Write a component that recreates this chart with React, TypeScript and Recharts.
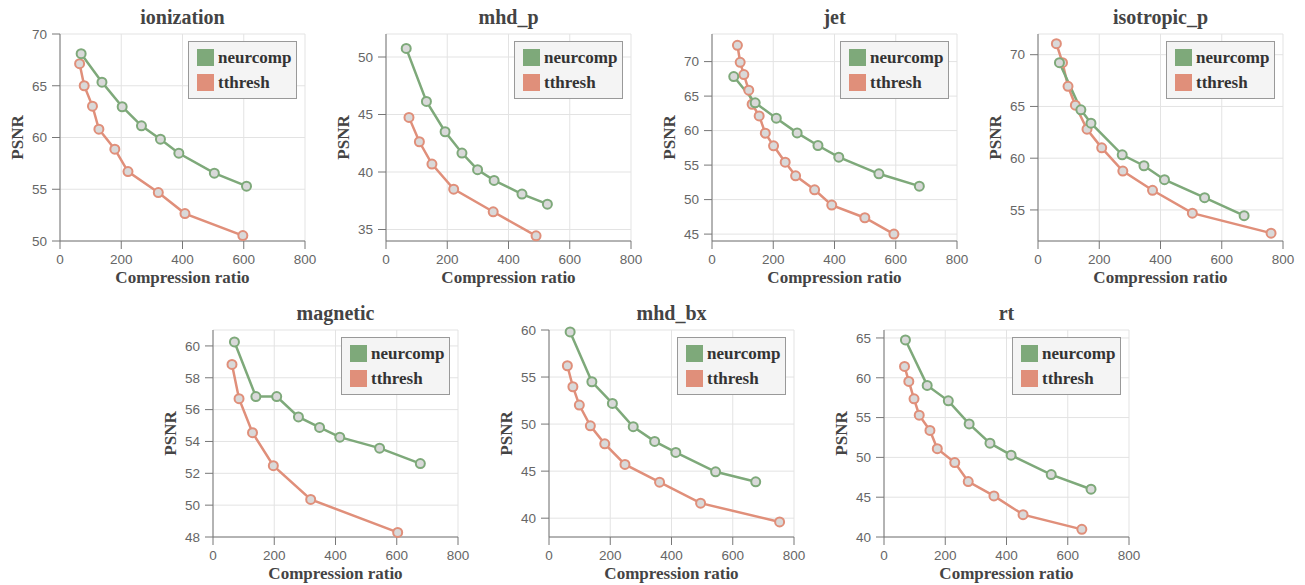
import React from "react";
import { LineChart, Line, XAxis, YAxis, CartesianGrid, Legend } from "recharts";

const SERIES = ["neurcomp", "tthresh"];
const COLORS = ["#7ea97a", "#e08f7a"];
const X_TICKS = [0, 200, 400, 600, 800];

// ionization
const ionizationNcRatio = [69, 137, 203, 266, 328, 388, 504, 609];
const ionizationNcPsnr = [68.1, 65.35, 62.97, 61.13, 59.84, 58.48, 56.55, 55.3];
const ionizationTtRatio = [64, 79, 106, 127, 179, 222, 321, 408, 597];
const ionizationTtPsnr = [67.13, 65.0, 63.03, 60.8, 58.87, 56.71, 54.68, 52.65, 50.52];

// mhd_p
const mhdPNcRatio = [66, 132, 193, 248, 299, 353, 444, 527];
const mhdPNcPsnr = [50.75, 46.14, 43.5, 41.65, 40.2, 39.27, 38.08, 37.2];
const mhdPTtRatio = [75, 109, 150, 221, 350, 490];
const mhdPTtPsnr = [44.75, 42.63, 40.69, 38.51, 36.54, 34.45];

// jet
const jetNcRatio = [71, 141, 210, 278, 346, 414, 545, 677];
const jetNcPsnr = [67.83, 64.02, 61.8, 59.67, 57.84, 56.15, 53.74, 51.95];
const jetTtRatio = [83, 92, 104, 120, 131, 154, 174, 201, 239, 273, 335, 391, 499, 594];
const jetTtPsnr = [72.36, 69.9, 68.12, 65.85, 63.82, 62.13, 59.62, 57.79, 55.42, 53.45, 51.42, 49.2, 47.37, 45.0];

// isotropic_p
const isoNcRatio = [70, 140, 173, 275, 346, 413, 544, 673];
const isoNcPsnr = [69.23, 64.67, 63.38, 60.33, 59.27, 57.92, 56.19, 54.45];
const isoTtRatio = [60, 80, 98, 122, 160, 208, 277, 374, 504, 761];
const isoTtPsnr = [71.06, 69.23, 66.95, 65.12, 62.8, 61.0, 58.76, 56.9, 54.69, 52.76];

// magnetic
const magneticNcRatio = [70, 140, 208, 279, 348, 414, 544, 677];
const magneticNcPsnr = [60.25, 56.82, 56.82, 55.54, 54.88, 54.27, 53.58, 52.61];
const magneticTtRatio = [62, 85, 129, 197, 319, 603];
const magneticTtPsnr = [58.84, 56.69, 54.55, 52.48, 50.36, 48.29];

// mhd_bx
const mhdBxNcRatio = [69, 140, 207, 275, 345, 414, 544, 675];
const mhdBxNcPsnr = [59.79, 54.5, 52.2, 49.72, 48.16, 46.99, 44.93, 43.87];
const mhdBxTtRatio = [60, 78, 99, 135, 182, 248, 361, 495, 753];
const mhdBxTtPsnr = [56.2, 53.97, 52.02, 49.82, 47.9, 45.71, 43.83, 41.6, 39.6];

// rt
const rtNcRatio = [70, 141, 210, 278, 346, 415, 546, 676];
const rtNcPsnr = [64.75, 59.04, 57.1, 54.2, 51.78, 50.28, 47.84, 46.0];
const rtTtRatio = [67, 81, 98, 115, 150, 174, 231, 275, 359, 454, 646];
const rtTtPsnr = [61.43, 59.54, 57.36, 55.3, 53.38, 51.1, 49.35, 46.96, 45.16, 42.81, 40.96];

const toPoints = (xs: number[], ys: number[]) => xs.map((x, i) => ({ x, y: ys[i] }));

const PANELS = [
  { title: "ionization", nc: toPoints(ionizationNcRatio, ionizationNcPsnr), tt: toPoints(ionizationTtRatio, ionizationTtPsnr), domain: [50, 70], ticks: [50, 55, 60, 65, 70], left: 0, top: 0 },
  { title: "mhd_p", nc: toPoints(mhdPNcRatio, mhdPNcPsnr), tt: toPoints(mhdPTtRatio, mhdPTtPsnr), domain: [34, 52], ticks: [35, 40, 45, 50], left: 326, top: 0 },
  { title: "jet", nc: toPoints(jetNcRatio, jetNcPsnr), tt: toPoints(jetTtRatio, jetTtPsnr), domain: [44, 74], ticks: [45, 50, 55, 60, 65, 70], left: 652, top: 0 },
  { title: "isotropic_p", nc: toPoints(isoNcRatio, isoNcPsnr), tt: toPoints(isoTtRatio, isoTtPsnr), domain: [52, 72], ticks: [55, 60, 65, 70], left: 978, top: 0 },
  { title: "magnetic", nc: toPoints(magneticNcRatio, magneticNcPsnr), tt: toPoints(magneticTtRatio, magneticTtPsnr), domain: [48, 61], ticks: [48, 50, 52, 54, 56, 58, 60], left: 153, top: 296 },
  { title: "mhd_bx", nc: toPoints(mhdBxNcRatio, mhdBxNcPsnr), tt: toPoints(mhdBxTtRatio, mhdBxTtPsnr), domain: [38, 60], ticks: [40, 45, 50, 55, 60], left: 489, top: 296 },
  { title: "rt", nc: toPoints(rtNcRatio, rtNcPsnr), tt: toPoints(rtTtRatio, rtTtPsnr), domain: [40, 66], ticks: [40, 45, 50, 55, 60, 65], left: 824, top: 296 },
];

const SERIF = "'Liberation Serif', 'Times New Roman', serif";
const AXIS = "#777";
const tickStyle = { fontSize: 13.5, fill: "#666", fontFamily: "'Liberation Sans', Arial, sans-serif" };
const labelStyle = { fontSize: 17, fontWeight: "bold", fill: "#444", fontFamily: SERIF, textAnchor: "middle" as const };

const LegendBox = () => (
  <div
    style={{
      boxSizing: "border-box",
      width: 109,
      height: 58,
      border: "1px solid #999",
      background: "#f4f4f4",
      padding: "7px 0 0 8px",
    }}
  >
    {SERIES.map((name, i) => (
      <div key={name} style={{ display: "flex", alignItems: "center", height: 17, marginBottom: 8 }}>
        <span style={{ display: "inline-block", width: 17, height: 17, background: COLORS[i], marginRight: 4 }} />
        <span style={{ fontFamily: SERIF, fontWeight: "bold", fontSize: 17, lineHeight: "17px", color: "#333" }}>{name}</span>
      </div>
    ))}
  </div>
);

const Panel = ({ title, nc, tt, domain, ticks, left, top }: any) => (
  <div style={{ position: "absolute", left, top, width: 330, height: 290 }}>
    <LineChart width={330} height={290} margin={{ top: 34, right: 25, bottom: 0, left: 0 }}>
      <CartesianGrid stroke="#e3e3e3" />
      <XAxis
        dataKey="x"
        type="number"
        domain={[0, 800]}
        ticks={X_TICKS}
        interval={0}
        height={49}
        stroke={AXIS}
        tickSize={8}
        tickMargin={5}
        tick={tickStyle}
        label={{ value: "Compression ratio", position: "insideBottom", offset: 7, style: labelStyle }}
      />
      <YAxis
        type="number"
        domain={domain}
        ticks={ticks}
        interval={0}
        width={60}
        stroke={AXIS}
        tickSize={8}
        tickMargin={5}
        tick={tickStyle}
        label={{ value: "PSNR", angle: -90, position: "insideLeft", offset: 17, style: labelStyle }}
      />
      <XAxis xAxisId="top" orientation="top" type="number" domain={[0, 800]} height={0} tick={false} tickLine={false} stroke={AXIS} />
      <YAxis yAxisId="right" orientation="right" type="number" domain={domain} width={0} tick={false} tickLine={false} stroke={AXIS} />
      <Line
        data={tt}
        dataKey="y"
        name="tthresh"
        stroke={COLORS[1]}
        strokeWidth={2.5}
        dot={{ r: 4.5, fill: "#d9d9d9", stroke: COLORS[1], strokeWidth: 2 }}
        activeDot={false}
        isAnimationActive={false}
      />
      <Line
        data={nc}
        dataKey="y"
        name="neurcomp"
        stroke={COLORS[0]}
        strokeWidth={2.5}
        dot={{ r: 4.5, fill: "#d9d9d9", stroke: COLORS[0], strokeWidth: 2 }}
        activeDot={false}
        isAnimationActive={false}
      />
      <Legend
        layout="horizontal"
        verticalAlign="middle"
        align="center"
        wrapperStyle={{ left: 188, top: 41, width: 109 }}
        content={() => <LegendBox />}
      />
    </LineChart>
    <div
      style={{
        position: "absolute",
        left: 60,
        width: 245,
        top: 5,
        textAlign: "center",
        fontFamily: SERIF,
        fontWeight: "bold",
        fontSize: 20,
        lineHeight: "24px",
        color: "#444",
      }}
    >
      {title}
    </div>
  </div>
);

export default function App() {
  return (
    <div style={{ position: "absolute", left: 0, top: 0, width: 1305, height: 585, background: "#fff" }}>
      {PANELS.map((p) => (
        <Panel key={p.title} {...p} />
      ))}
    </div>
  );
}
